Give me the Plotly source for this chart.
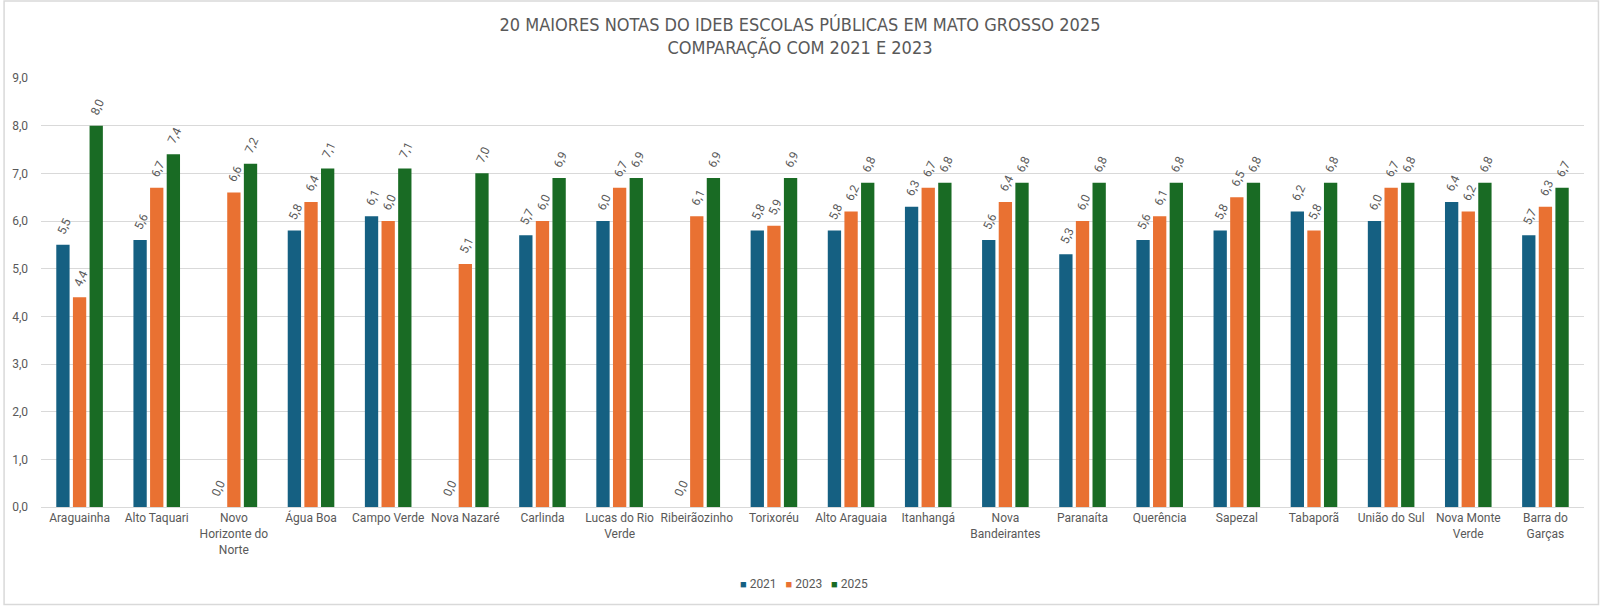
import plotly.graph_objects as go

categories = ["Araguainha", "Alto Taquari", "Novo<br>Horizonte do<br>Norte", "Água Boa", "Campo Verde",
              "Nova Nazaré", "Carlinda", "Lucas do Rio<br>Verde", "Ribeirãozinho", "Torixoréu",
              "Alto Araguaia", "Itanhangá", "Nova<br>Bandeirantes", "Paranaíta", "Querência",
              "Sapezal", "Tabaporã", "União do Sul", "Nova Monte<br>Verde", "Barra do<br>Garças"]
v2021 = [5.5, 5.6, 0.0, 5.8, 6.1, 0.0, 5.7, 6.0, 0.0, 5.8, 5.8, 6.3, 5.6, 5.3, 5.6, 5.8, 6.2, 6.0, 6.4, 5.7]
v2023 = [4.4, 6.7, 6.6, 6.4, 6.0, 5.1, 6.0, 6.7, 6.1, 5.9, 6.2, 6.7, 6.4, 6.0, 6.1, 6.5, 5.8, 6.7, 6.2, 6.3]
v2025 = [8.0, 7.4, 7.2, 7.1, 7.1, 7.0, 6.9, 6.9, 6.9, 6.9, 6.8, 6.8, 6.8, 6.8, 6.8, 6.8, 6.8, 6.8, 6.8, 6.7]
series_names = ["2021", "2023", "2025"]
colors = ["#156082", "#E97132", "#196B24"]
ytick_vals = [0, 1, 2, 3, 4, 5, 6, 7, 8, 9]

FONT = "Roboto"
TITLE_FONT = "Liberation Sans Narrow, DejaVu Sans Condensed, Roboto"
GRAY = "#595959"
NBSP = "\u00a0"

fig = go.Figure()
for name, vals, col in zip(series_names, [v2021, v2023, v2025], colors):
    fig.add_trace(go.Bar(
        x=categories, y=vals, name=name, showlegend=False,
        marker=dict(color=col, line=dict(width=0)),
        texttemplate=NBSP * 2 + "%{y:.1f}", textposition="outside", textangle=-65,
        constraintext="none",
        textfont=dict(family=FONT, size=12, color=GRAY),
        cliponaxis=False,
    ))

W, H = 1600, 606
ml, mr, mt, mb = 38, 16, 78, 99
pw, ph = W - ml - mr, H - mt - mb

legend_text = (NBSP * 3).join(
    f'<span style="color:{c};font-size:11px">■</span> {n}' for n, c in zip(series_names, colors))

fig.update_layout(
    width=W, height=H,
    margin=dict(l=ml, r=mr, t=mt, b=mb),
    paper_bgcolor="white", plot_bgcolor="white",
    separators=",.",
    barmode="group", bargap=0.353, bargroupgap=0.2,
    font=dict(family=FONT, size=12, color=GRAY),
    showlegend=False,
    title=dict(text="20 MAIORES NOTAS DO IDEB ESCOLAS PÚBLICAS EM MATO GROSSO 2025<br>COMPARAÇÃO COM 2021 E 2023",
               x=0.5, xref="container", xanchor="center", y=1 - 31 / H, yanchor="middle",
               font=dict(family=TITLE_FONT, size=18, color=GRAY)),
    annotations=[dict(text=legend_text, xref="paper", yref="paper",
                      x=(802 - ml) / pw, y=-(584 - (H - mb)) / ph,
                      xanchor="center", yanchor="middle", showarrow=False,
                      font=dict(family=FONT, size=12, color=GRAY))],
    xaxis=dict(showgrid=False, showline=True, linecolor="#D9D9D9", linewidth=1,
               ticks="", tickfont=dict(family=FONT, size=12, color=GRAY), tickangle=0),
    yaxis=dict(range=[0, 9], tickvals=ytick_vals, tickformat=".1f",
               showgrid=True, gridcolor="#D9D9D9", gridwidth=1,
               zeroline=False, showline=False, ticks="", ticklabelstandoff=12,
               tickfont=dict(family=FONT, size=12, color=GRAY)),
    shapes=[dict(type="rect", xref="paper", yref="paper",
                 x0=(1 - ml) / pw, x1=(W - ml - 1.5) / pw,
                 y0=-(mb - 1.5) / ph, y1=1 + (mt - 1) / ph,
                 line=dict(color="#D9D9D9", width=1.5), fillcolor="rgba(0,0,0,0)")],
)

fig.write_html("out.html", config={"displayModeBar": False},
               post_script="document.body.style.margin='0';document.body.style.overflow='hidden';")
